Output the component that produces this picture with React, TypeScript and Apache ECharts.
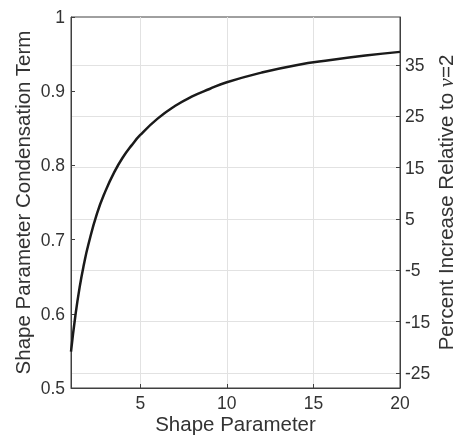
import React, { useEffect, useRef } from "react";
import * as echarts from "echarts";

// Shape parameter (x) and condensation term (left y)
const shapeParam = [1, 1.25, 1.5, 1.75, 2, 2.5, 3, 3.5, 4, 4.5, 5, 6, 7, 8, 9, 10, 12, 14, 16, 18, 20];
const condTerm = [0.549, 0.597, 0.636, 0.667, 0.693, 0.735, 0.766, 0.791, 0.811, 0.827, 0.841, 0.863, 0.88, 0.893, 0.903, 0.912, 0.925, 0.935, 0.942, 0.948, 0.953];

const xTicks = [5, 10, 15, 20];
const rightTicks = [-25, -15, -5, 5, 15, 25, 35];

const FONT = "'Liberation Sans', Arial, Helvetica, sans-serif";
const TEXT = "#333333";
const AXIS = "#404040";
const GRID = "#e2e2e2";

export default function App() {
  const ref = useRef<HTMLDivElement>(null);
  useEffect(() => {
    if (!ref.current) return;
    const chart = echarts.init(ref.current, null, { renderer: "svg" });
    const data = shapeParam.map((x, i) => [x, condTerm[i]]);
    chart.setOption({
      animation: false,
      grid: {
        left: 71,
        right: 57,
        top: 17,
        bottom: 47,
        outerBoundsMode: "none",
        containLabel: false,
        show: true,
        borderColor: AXIS,
        borderWidth: 1,
        backgroundColor: "transparent",
      },
      xAxis: {
        type: "value",
        min: 1,
        max: 20,
        name: "Shape Parameter",
        nameLocation: "middle",
        nameGap: 25,
        nameMoveOverlap: false,
        nameTextStyle: { fontFamily: FONT, fontSize: 20.5, color: TEXT },
        axisLine: { show: true, onZero: false, lineStyle: { color: AXIS, width: 1 } },
        axisTick: { show: true, inside: true, length: 4, customValues: xTicks, lineStyle: { color: AXIS } },
        axisLabel: { customValues: xTicks, fontFamily: FONT, fontSize: 17.5, color: TEXT, margin: 6 },
        splitLine: { show: true, lineStyle: { color: GRID, width: 1 } },
      },
      yAxis: [
        {
          type: "value",
          min: 0.5,
          max: 1,
          interval: 0.1,
          position: "left",
          name: "Shape Parameter Condensation Term",
          nameLocation: "middle",
          nameRotate: 90,
          nameGap: 38,
          nameMoveOverlap: false,
          nameTextStyle: { fontFamily: FONT, fontSize: 20.5, color: TEXT },
          axisLine: { show: true, onZero: false, lineStyle: { color: AXIS, width: 1 } },
          axisTick: { show: true, inside: true, length: 4, lineStyle: { color: AXIS } },
          axisLabel: { fontFamily: FONT, fontSize: 17.5, color: TEXT, margin: 6 },
          splitLine: { show: false },
        },
        {
          type: "value",
          min: -27.9,
          max: 44.3,
          position: "right",
          name: "Percent Increase Relative to {nu|ν}=2",
          nameLocation: "middle",
          nameRotate: 90,
          nameGap: 35,
          nameMoveOverlap: false,
          nameTextStyle: {
            fontFamily: FONT,
            fontSize: 20.5,
            color: TEXT,
            rich: {
              nu: { fontFamily: "'Liberation Serif', 'DejaVu Serif', serif", fontStyle: "italic", fontSize: 20.5, color: TEXT },
            },
          },
          axisLine: { show: true, onZero: false, lineStyle: { color: AXIS, width: 1 } },
          axisTick: { show: true, inside: true, length: 4, customValues: rightTicks, lineStyle: { color: AXIS } },
          axisLabel: { customValues: rightTicks, fontFamily: FONT, fontSize: 17.5, color: TEXT, margin: 5 },
          splitLine: { show: true, lineStyle: { color: GRID, width: 1 } },
        },
      ],
      series: [
        {
          type: "line",
          yAxisIndex: 0,
          data,
          smooth: true,
          showSymbol: false,
          lineStyle: { color: "#1a1a1a", width: 2.5 },
          itemStyle: { color: "#1a1a1a" },
          z: 5,
        },
      ],
    });
    return () => chart.dispose();
  }, []);
  return <div ref={ref} style={{ position: "fixed", left: 0, top: 0, width: 457, height: 435 }} />;
}
